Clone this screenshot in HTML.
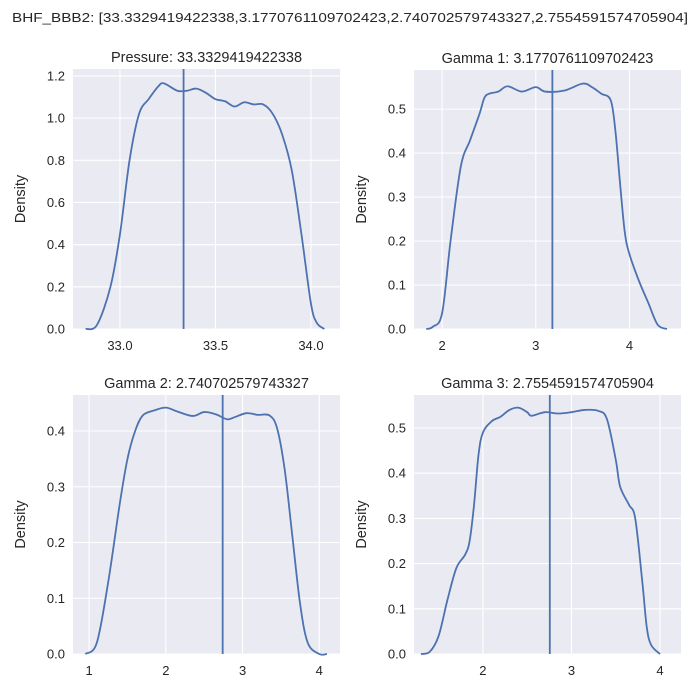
<!DOCTYPE html>
<html><head><meta charset="utf-8"><style>
body{margin:0;background:#fff}
svg{display:block;font-family:"Liberation Sans","DejaVu Sans",sans-serif}
</style></head><body>
<svg id="chart" width="700" height="700" viewBox="0 0 700 700">
<rect width="700" height="700" fill="#fff"/>
<text x="350" y="22" text-anchor="middle" font-size="13" fill="#262626" textLength="676" lengthAdjust="spacingAndGlyphs">BHF_BBB2: [33.3329419422338,3.1770761109702423,2.740702579743327,2.7554591574705904]</text>
</svg>
<script>
// Panel 1: Pressure
const p1X=[32.82,32.88,32.95,33.0,33.05,33.1,33.15,33.2,33.23,33.3,33.35,33.4,33.45,33.5,33.55,33.6,33.65,33.7,33.75,33.8,33.85,33.9,33.95,34.0,34.03,34.07];
const p1Y=[0,0.02,0.2,0.45,0.8,1.02,1.09,1.15,1.165,1.13,1.13,1.14,1.12,1.09,1.08,1.055,1.075,1.065,1.065,1.02,0.92,0.75,0.45,0.12,0.03,0];
const p1Ticks=[33.0,33.5,34.0];
const p1TickLabels=["33.0","33.5","34.0"];
const p1YTicks=[0,0.2,0.4,0.6,0.8,1.0,1.2];
const p1VLine=33.3329419422338;
// Panel 2: Gamma 1
const p2X=[1.83,1.9,2.0,2.09,2.2,2.3,2.4,2.45,2.5,2.6,2.7,2.85,3.0,3.1,3.3,3.5,3.6,3.7,3.8,3.85,3.9,3.95,4.0,4.1,4.2,4.3,4.4];
const p2Y=[0,0.005,0.036,0.2,0.37,0.43,0.49,0.525,0.535,0.54,0.552,0.54,0.55,0.54,0.542,0.558,0.55,0.535,0.52,0.45,0.33,0.22,0.17,0.11,0.06,0.01,0];
const p2Ticks=[2,3,4];
const p2TickLabels=["2","3","4"];
const p2YTicks=[0,0.1,0.2,0.3,0.4,0.5];
const p2VLine=3.1770761109702423;
// Panel 3: Gamma 2
const p3X=[0.95,1.1,1.25,1.4,1.5,1.6,1.7,1.85,2.0,2.15,2.35,2.5,2.65,2.8,2.9,3.05,3.2,3.35,3.45,3.55,3.65,3.75,3.85,4.0,4.1];
const p3Y=[0,0.02,0.13,0.27,0.35,0.40,0.428,0.437,0.442,0.435,0.427,0.434,0.43,0.421,0.425,0.432,0.429,0.428,0.405,0.33,0.21,0.09,0.02,0.0,0];
const p3Ticks=[1,2,3,4];
const p3TickLabels=["1","2","3","4"];
const p3YTicks=[0,0.1,0.2,0.3,0.4];
const p3VLine=2.740702579743327;
// Panel 4: Gamma 3
const p4X=[1.3,1.4,1.5,1.6,1.7,1.8,1.85,1.9,1.95,2.0,2.1,2.2,2.3,2.4,2.5,2.55,2.7,2.85,3.0,3.15,3.3,3.4,3.5,3.55,3.65,3.72,3.8,3.85,3.9,4.0];
const p4Y=[0,0.005,0.04,0.12,0.19,0.22,0.25,0.33,0.44,0.49,0.515,0.525,0.54,0.545,0.535,0.527,0.535,0.532,0.535,0.54,0.538,0.52,0.43,0.37,0.33,0.3,0.16,0.06,0.02,0];
const p4Ticks=[2,3,4];
const p4TickLabels=["2","3","4"];
const p4YTicks=[0,0.1,0.2,0.3,0.4,0.5];
const p4VLine=2.7554591574705904;

const NS="http://www.w3.org/2000/svg";
const svg=document.getElementById('chart');
function mk(tag,attrs,parent){const e=document.createElementNS(NS,tag);for(const k in attrs)e.setAttribute(k,attrs[k]);(parent||svg).appendChild(e);return e;}

function panel(cfg){
  const {L,R,T,B,xmin,xmax,ymax,xs,ys,xt,xtl,yt,vl,title,key}=cfg;
  const g=mk('g',{});
  
  
  const sx=v=>L+(v-xmin)/(xmax-xmin)*(R-L);
  const sy=v=>B-v/ymax*(B-T);
  const bg=mk('rect',{x:L,y:T,width:R-L,height:B-T,fill:'#eaeaf2'},g);
  
  
  xt.forEach((v,i)=>{
    const ln=mk('line',{x1:sx(v),x2:sx(v),y1:T,y2:B,stroke:'#fff','stroke-width':1.1},g);
    
    
    const t=mk('text',{x:sx(v),y:B+21,'text-anchor':'middle','font-size':13,fill:'#262626'},g);
    
    
    t.textContent=xtl[i];
  });
  yt.forEach(v=>{
    const ln=mk('line',{x1:L,x2:R,y1:sy(v),y2:sy(v),stroke:'#fff','stroke-width':1.1},g);
    
    
    const t=mk('text',{x:L-8,y:sy(v)+4.5,'text-anchor':'end','font-size':13,fill:'#262626'},g);
    
    
    t.textContent=v.toFixed(1);
  });
  const P=xs.map((x,i)=>[sx(x),sy(ys[i])]);
  let d='M'+P[0][0]+','+P[0][1];
  for(let i=0;i<P.length-1;i++){
    const p0=P[i-1]||P[i],p1=P[i],p2=P[i+1],p3=P[i+2]||P[i+1];
    const c1=[p1[0]+(p2[0]-p0[0])/6,p1[1]+(p2[1]-p0[1])/6];
    const c2=[p2[0]-(p3[0]-p1[0])/6,p2[1]-(p3[1]-p1[1])/6];
    d+=' C'+c1+' '+c2+' '+p2;
  }
  const path=mk('path',{d:d,fill:'none',stroke:'#4c72b0','stroke-width':1.8},g);
  
  
  const v=mk('line',{x1:sx(vl),x2:sx(vl),y1:T,y2:B,stroke:'#4c72b0','stroke-width':1.8},g);
  
  
  const tt=mk('text',{x:(L+R)/2,y:T-7,'text-anchor':'middle','font-size':14.5,fill:'#262626'},g);
  
  
  tt.textContent=title;
  const yl=mk('text',{x:0,y:0,'text-anchor':'middle','font-size':14.5,fill:'#262626',transform:'translate('+(L-48)+','+((T+B)/2)+') rotate(-90)'},g);
  
  
  yl.textContent='Density';
}
panel({key:'pressure',L:73,R:340,T:69,B:329,xmin:32.754,xmax:34.152,ymax:1.233,xs:p1X,ys:p1Y,xt:p1Ticks,xtl:p1TickLabels,yt:p1YTicks,vl:p1VLine,title:'Pressure: 33.3329419422338'});
panel({key:'gamma1',L:414,R:681,T:70,B:329,xmin:1.70,xmax:4.55,ymax:0.589,xs:p2X,ys:p2Y,xt:p2Ticks,xtl:p2TickLabels,yt:p2YTicks,vl:p2VLine,title:'Gamma 1: 3.1770761109702423'});
panel({key:'gamma2',L:73,R:340,T:395,B:654,xmin:0.79,xmax:4.27,ymax:0.4646,xs:p3X,ys:p3Y,xt:p3Ticks,xtl:p3TickLabels,yt:p3YTicks,vl:p3VLine,title:'Gamma 2: 2.740702579743327'});
panel({key:'gamma3',L:414,R:681,T:395,B:654,xmin:1.222,xmax:4.237,ymax:0.573,xs:p4X,ys:p4Y,xt:p4Ticks,xtl:p4TickLabels,yt:p4YTicks,vl:p4VLine,title:'Gamma 3: 2.7554591574705904'});
</script>
</body></html>
